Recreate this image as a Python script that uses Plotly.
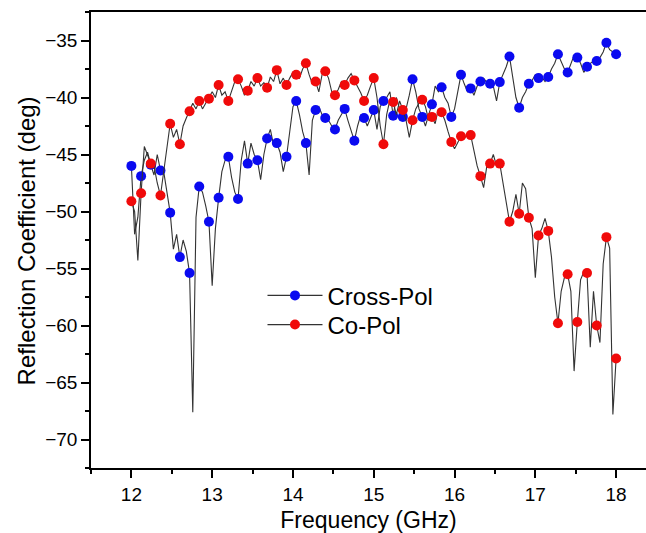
import plotly.graph_objects as go

# Frequency grid of the measured curves (GHz)
freq = [12.00, 12.04, 12.08, 12.12, 12.16, 12.20, 12.24, 12.28, 12.32, 12.36, 12.40, 12.44,
        12.48, 12.52, 12.56, 12.60, 12.64, 12.68, 12.72, 12.76, 12.80, 12.84, 12.88, 12.92,
        12.96, 13.00, 13.04, 13.08, 13.12, 13.16, 13.20, 13.24, 13.28, 13.32, 13.36, 13.40,
        13.44, 13.48, 13.52, 13.56, 13.60, 13.64, 13.68, 13.72, 13.76, 13.80, 13.84, 13.88,
        13.92, 13.96, 14.00, 14.04, 14.08, 14.12, 14.16, 14.20, 14.24, 14.28, 14.32, 14.36,
        14.40, 14.44, 14.48, 14.52, 14.56, 14.60, 14.64, 14.68, 14.72, 14.76, 14.80, 14.84,
        14.88, 14.92, 14.96, 15.00, 15.04, 15.08, 15.12, 15.16, 15.20, 15.24, 15.28, 15.32,
        15.36, 15.40, 15.44, 15.48, 15.52, 15.56, 15.60, 15.64, 15.68, 15.72, 15.76, 15.80,
        15.84, 15.88, 15.92, 15.96, 16.00, 16.04, 16.08, 16.12, 16.16, 16.20, 16.24, 16.28,
        16.32, 16.36, 16.40, 16.44, 16.48, 16.52, 16.56, 16.60, 16.64, 16.68, 16.72, 16.76,
        16.80, 16.84, 16.88, 16.92, 16.96, 17.00, 17.04, 17.08, 17.12, 17.16, 17.20, 17.24,
        17.28, 17.32, 17.36, 17.40, 17.44, 17.48, 17.52, 17.56, 17.60, 17.64, 17.68, 17.72,
        17.76, 17.80, 17.84, 17.88, 17.92, 17.96, 18.00]

# Cross-Pol reflection coefficient (deg)
cross_pol = [-46.0, -52.0, -50.5, -46.9, -45.5, -44.8, -45.9, -46.8, -45.0, -46.4, -46.5, -48.5,
             -50.1, -53.3, -52.0, -54.0, -52.5, -53.5, -55.4, -67.6, -50.5, -47.8, -48.3, -49.5,
             -50.9, -56.5, -51.5, -48.8, -46.5, -45.5, -45.2, -47.0, -48.3, -48.9, -45.5, -43.8,
             -45.8, -44.0, -45.0, -45.5, -47.2, -45.0, -43.6, -42.8, -44.2, -44.0, -44.8, -46.5,
             -45.2, -43.0, -40.8, -40.3, -41.5, -43.0, -44.0, -46.8, -42.0, -41.1, -40.8, -41.5,
             -41.8, -42.0, -42.5, -42.8, -42.0, -41.5, -41.0, -42.0, -43.0, -43.8, -42.5, -41.5,
             -41.8, -42.5, -41.8, -41.1, -42.8, -40.8, -40.3, -40.0, -39.5, -41.6, -40.0, -41.0,
             -41.7, -41.0, -39.8, -38.4, -39.5, -41.0, -41.7, -42.5, -41.5, -40.6, -39.0, -39.5,
             -39.1, -40.0, -40.5, -41.7, -41.0, -39.5, -38.0, -38.8, -39.5, -39.2, -39.8, -39.0,
             -38.6, -38.3, -38.7, -38.8, -39.0, -40.3, -38.65, -38.0, -37.3, -36.4, -38.2, -40.0,
             -40.9, -40.0, -39.5, -38.8, -38.5, -38.0, -38.3, -38.2, -38.6, -38.2, -37.5, -37.0,
             -36.2, -36.8, -37.5, -37.8, -37.0, -36.3, -36.5, -37.0, -37.8, -37.3, -37.0, -36.8,
             -36.8, -36.5, -36.0, -35.2, -35.8, -36.0, -36.2]

# Co-Pol reflection coefficient (deg)
co_pol = [-49.1, -50.0, -54.3, -48.4, -44.3, -45.0, -45.8, -46.0, -47.5, -48.6, -46.5, -44.0,
          -42.3, -43.5, -42.8, -44.1, -42.5, -41.8, -41.2, -40.5, -41.0, -40.3, -41.0, -40.5,
          -40.1, -39.5, -40.0, -38.9, -39.8, -39.5, -40.3, -39.5, -38.6, -38.4, -39.0, -39.8,
          -39.4, -38.6, -39.0, -38.3, -39.0, -38.7, -39.15, -38.2, -38.6, -37.6, -38.8, -38.3,
          -38.9, -38.3, -37.8, -38.0, -38.3, -37.5, -37.0, -38.0, -38.8, -38.6, -39.5, -38.0,
          -37.7, -38.3, -39.5, -39.8, -39.3, -38.6, -38.9, -38.3, -37.9, -38.5, -39.0, -39.6,
          -40.3, -39.8, -39.0, -38.3, -40.0, -42.5, -44.1, -41.5, -40.2, -40.4, -41.5, -40.3,
          -41.1, -42.0, -43.5, -42.0, -41.0, -40.5, -40.2, -40.8, -42.0, -41.7, -42.3, -41.0,
          -41.3, -42.0, -43.0, -43.9, -44.5, -44.0, -43.4, -43.6, -43.2, -43.3, -44.8, -46.0,
          -46.9, -47.9, -46.0, -45.8, -45.0, -46.0, -45.8, -47.5, -49.5, -50.9, -50.0, -48.5,
          -50.2, -47.5, -48.0, -50.55, -51.5, -55.8, -52.1, -51.5, -50.6, -51.7, -54.0, -57.5,
          -59.8, -57.0, -55.8, -55.5, -57.0, -64.0, -59.7, -56.0, -55.3, -55.4, -61.9, -57.0,
          -60.0, -61.5, -54.6, -52.25, -53.2, -67.8, -62.9]

series_names = ["Cross-Pol", "Co-Pol"]
x_ticks = [12, 13, 14, 15, 16, 17, 18]
y_ticks = [-35, -40, -45, -50, -55, -60, -65, -70]
x_title = "Frequency (GHz)"
y_title = "Reflection Coefficient (deg)"

MARK_EVERY = 3
LINE_COLOR = "#333333"
COLORS = {"Cross-Pol": "#0a0af0", "Co-Pol": "#f00a0a"}
LEGENDS = {"Cross-Pol": "legend", "Co-Pol": "legend2"}
FONT = "Arial, Liberation Sans, sans-serif"

fig = go.Figure()
for name, vals in zip(series_names, [cross_pol, co_pol]):
    fig.add_trace(go.Scatter(x=freq, y=vals, mode="lines",
                             line=dict(color=LINE_COLOR, width=1.1),
                             showlegend=False, hoverinfo="skip"))
    fig.add_trace(go.Scatter(x=freq[::MARK_EVERY], y=vals[::MARK_EVERY], mode="markers",
                             marker=dict(color=COLORS[name], size=10, line=dict(width=0)),
                             showlegend=False))
for name in series_names:
    fig.add_trace(go.Scatter(x=[None], y=[None], mode="lines+markers", name=name,
                             legend=LEGENDS[name],
                             line=dict(color=LINE_COLOR, width=1.2),
                             marker=dict(color=COLORS[name], size=10)))

axis_common = dict(showgrid=False, zeroline=False, linecolor="black", linewidth=1.5,
                   tickcolor="black", tickwidth=1.5, ticklen=8,
                   tickfont=dict(family=FONT, size=19, color="black"))

legend_common = dict(xanchor="left", yanchor="top", bgcolor="rgba(0,0,0,0)",
                     font=dict(family=FONT, size=24, color="black"), itemwidth=55)

fig.update_layout(
    width=646, height=533,
    margin=dict(l=91, r=0, t=12, b=65),
    paper_bgcolor="white", plot_bgcolor="white",
    font=dict(family=FONT, color="black"),
    xaxis=dict(range=[11.5, 18.37], tickvals=x_ticks, ticks="outside", showline=True,
               mirror=True,
               minor=dict(dtick=0.5, tick0=11.5, ticks="outside", ticklen=4, tickwidth=1.5,
                          tickcolor="black"),
               title=dict(text=x_title, font=dict(family=FONT, size=23), standoff=8),
               **axis_common),
    xaxis2=dict(overlaying="x", side="top", matches="x", anchor="y", range=[11.5, 18.37],
                tickvals=x_ticks, ticks="inside", showticklabels=False, showline=False,
                showgrid=False, zeroline=False, tickcolor="black", tickwidth=1.5, ticklen=8,
                minor=dict(dtick=0.5, tick0=11.5, ticks="inside", ticklen=4, tickwidth=1.5,
                           tickcolor="black")),
    yaxis=dict(range=[-72.5, -32.5], tickvals=y_ticks, ticks="outside", showline=True,
               minor=dict(dtick=2.5, tick0=-32.5, ticks="outside", ticklen=4, tickwidth=1.5,
                          tickcolor="black"),
               **axis_common),
    legend=dict(x=0.309, y=0.427, **legend_common),
    legend2=dict(x=0.309, y=0.363, **legend_common),
    showlegend=True,
    annotations=[dict(text=y_title, textangle=-90, xref="paper", yref="paper",
                      x=-0.117, y=0.497, xanchor="center", yanchor="middle",
                      showarrow=False, font=dict(family=FONT, size=24, color="black"))],
)

fig.write_html("out.html")
